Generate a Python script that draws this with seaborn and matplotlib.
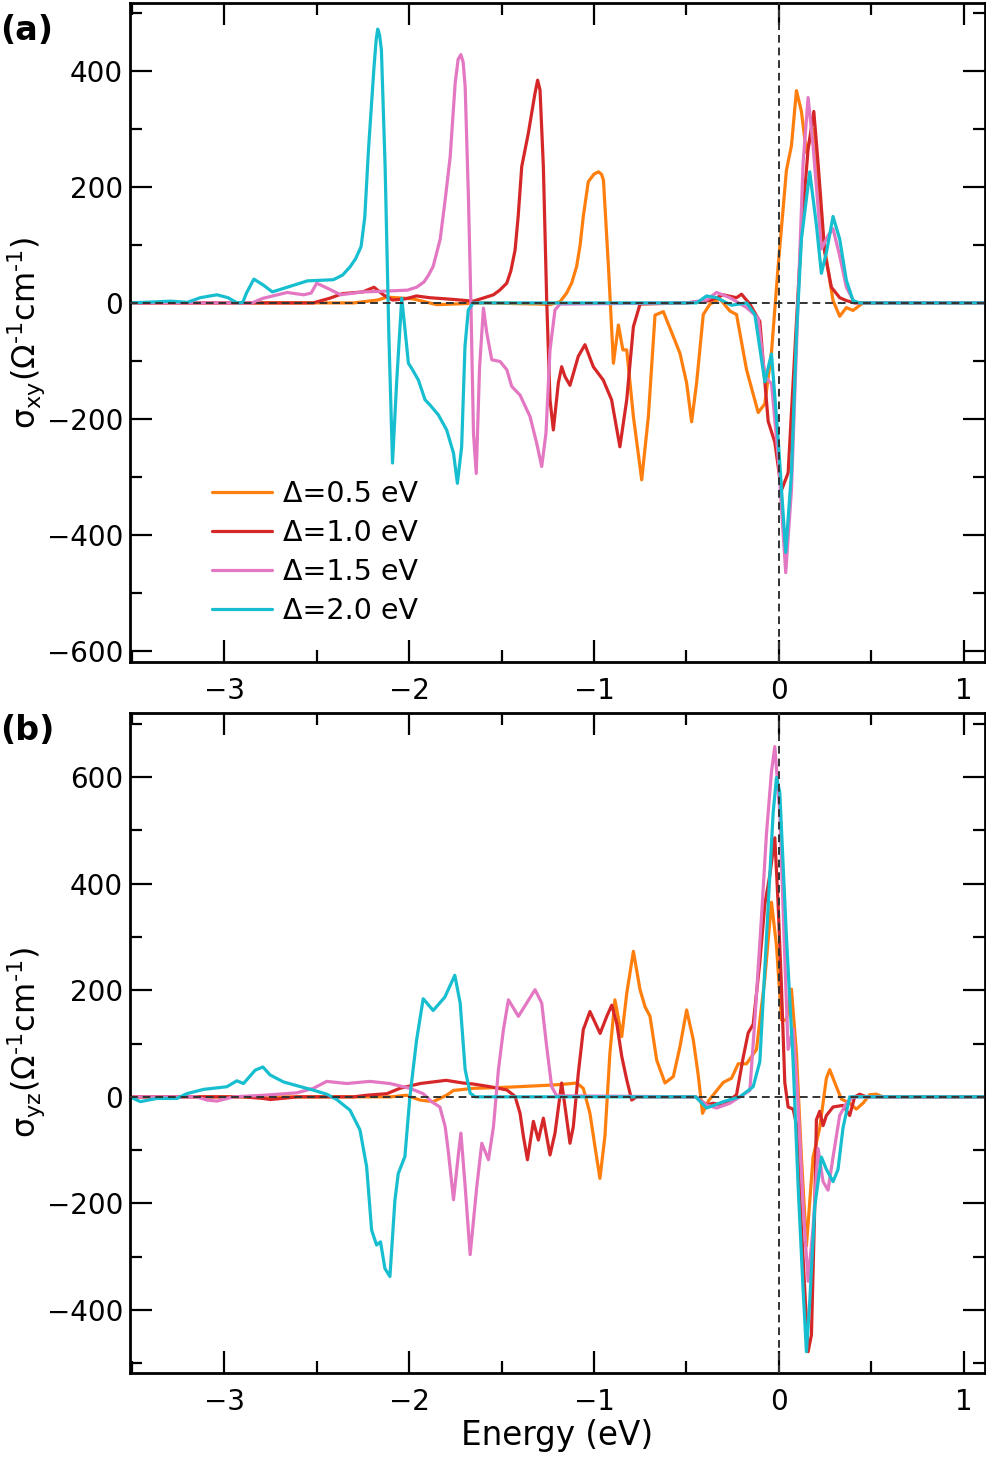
import numpy as np
import pandas as pd
import matplotlib
matplotlib.use("Agg")
import matplotlib.pyplot as plt
from matplotlib.ticker import MultipleLocator
import seaborn as sns

# ---------------- data ----------------
labels = ["Δ=0.5 eV", "Δ=1.0 eV", "Δ=1.5 eV", "Δ=2.0 eV"]
colors = ["#ff7f0e", "#d62728", "#e377c2", "#17becf"]

# Panel (a): sigma_xy
a05_E = [-3.51, -2.3, -2.17, -2.12, -1.98, -1.85, -1.6, -1.29, -1.238, -1.184, -1.148, -1.12, -1.094, -1.075, -1.058,
         -1.031, -1.0, -0.976, -0.96, -0.949, -0.922, -0.895, -0.868, -0.844, -0.823, -0.787, -0.742, -0.706, -0.670,
         -0.625, -0.571, -0.535, -0.499, -0.472, -0.445, -0.409, -0.373, -0.319, -0.265, -0.229, -0.175, -0.112,
         -0.076, -0.04, -0.004, 0.041, 0.068, 0.095, 0.122, 0.149, 0.185, 0.221, 0.257, 0.293, 0.329, 0.365, 0.401,
         0.455, 1.11]
a05_S = [0, 0, 5, 10, 7, -3, 0, -2, -3, 2, 17, 35, 63, 100, 149, 209, 222, 226, 222, 212, 63, -104, -38, -81, -81,
         -196, -305, -196, -21, -15, -58, -87, -138, -205, -138, -20, -2, 7, -14, -20, -115, -189, -174, -85, 63, 229,
         271, 366, 330, 259, 300, 152, 75, 4, -23, -8, -13, 0, 0]

a10_E = [-3.51, -2.52, -2.43, -2.36, -2.25, -2.19, -2.14, -2.09, -2.02, -1.96, -1.89, -1.76, -1.652, -1.544, -1.51,
         -1.472, -1.45, -1.427, -1.41, -1.391, -1.355, -1.32, -1.305, -1.292, -1.274, -1.256, -1.238, -1.22, -1.193,
         -1.175, -1.157, -1.13, -1.085, -1.049, -1.004, -0.95, -0.905, -0.86, -0.823, -0.787, -0.751, -0.5, -0.373,
         -0.301, -0.229, -0.202, -0.157, -0.103, -0.058, -0.022, 0.014, 0.05, 0.086, 0.122, 0.158, 0.189, 0.212,
         0.248, 0.284, 0.329, 0.365, 0.41, 1.11]
a10_S = [0, 0, 8, 16, 19, 27, 14, 5, 7, 12, 9, 6, 3, 14, 22, 34, 55, 91, 150, 235, 293, 360, 384, 367, 235, 5, -167,
         -219, -138, -110, -127, -142, -92, -72, -110, -133, -167, -248, -167, -41, -2, 0, 4, 14, 9, 15, -2, -32,
         -204, -240, -323, -293, -85, 122, 265, 330, 241, 87, 27, 9, 4, 0, 0]

a15_E = [-3.51, -2.85, -2.79, -2.66, -2.57, -2.53, -2.50, -2.44, -2.37, -2.25, -2.15, -2.01, -1.96, -1.92, -1.895,
         -1.87, -1.832, -1.805, -1.778, -1.751, -1.735, -1.72, -1.708, -1.697, -1.679, -1.666, -1.652, -1.637, -1.619,
         -1.598, -1.58, -1.553, -1.508, -1.472, -1.445, -1.4, -1.346, -1.31, -1.283, -1.26, -1.238, -1.211, -1.184,
         -0.5, -0.391, -0.337, -0.265, -0.175, -0.112, -0.076, -0.04, -0.004, 0.037, 0.068, 0.104, 0.131, 0.158,
         0.185, 0.23, 0.266, 0.293, 0.329, 0.365, 0.41, 1.11]
a15_S = [0, 0, 8, 18, 14, 17, 34, 25, 14, 19, 20, 22, 27, 36, 48, 63, 110, 178, 252, 379, 420, 428, 415, 373, 178,
         0, -225, -294, -110, -9, -52, -98, -101, -115, -144, -159, -196, -242, -282, -225, -81, -12, -2, 0, 5, 18,
         9, -8, -26, -127, -139, -264, -465, -323, 4, 241, 354, 271, 93, 116, 128, 81, 27, 0, 0]

a20_E = [-3.51, -3.29, -3.2, -3.13, -3.04, -2.98, -2.93, -2.9, -2.88, -2.84, -2.79, -2.74, -2.55, -2.41, -2.36,
         -2.32, -2.29, -2.26, -2.24, -2.22, -2.19, -2.178, -2.17, -2.16, -2.15, -2.13, -2.11, -2.09, -2.067, -2.04,
         -2.022, -2.004, -1.986, -1.95, -1.914, -1.887, -1.842, -1.797, -1.76, -1.739, -1.716, -1.698, -1.68, -1.653,
         -0.445, -0.391, -0.337, -0.256, -0.175, -0.13, -0.076, -0.04, -0.004, 0.037, 0.068, 0.095, 0.122, 0.167,
         0.203, 0.23, 0.257, 0.293, 0.329, 0.365, 0.401, 0.437, 1.11]
a20_S = [0, 3, 1, 9, 14, 9, 0, 1, 17, 41, 31, 19, 38, 40, 48, 62, 76, 97, 148, 264, 407, 455, 472, 462, 436, 235,
         -52, -276, -133, 8, -47, -104, -113, -133, -167, -176, -193, -219, -259, -311, -248, -75, -12, 0, 0, 12, 9,
         -4, 0, -20, -136, -88, -234, -430, -293, -56, 110, 226, 134, 51, 87, 149, 110, 39, 4, 0, 0]

# Panel (b): sigma_yz
b05_E = [-3.51, -2.1, -2.014, -1.942, -1.87, -1.798, -1.76, -1.652, -1.472, -1.292, -1.184, -1.094, -1.058, -1.022,
         -0.995, -0.968, -0.941, -0.914, -0.887, -0.85, -0.823, -0.787, -0.751, -0.724, -0.697, -0.661, -0.616,
         -0.571, -0.535, -0.499, -0.463, -0.436, -0.413, -0.382, -0.301, -0.256, -0.22, -0.175, -0.121, -0.076,
         -0.04, -0.013, 0.014, 0.041, 0.068, 0.095, 0.122, 0.149, 0.185, 0.221, 0.257, 0.275, 0.311, 0.338, 0.383,
         0.419, 0.455, 0.491, 0.527, 0.563, 1.11]
b05_S = [0, 0, 3, -6, -9, 3, 12, 16, 18, 21, 23, 26, 16, -31, -93, -153, -74, 82, 182, 113, 194, 273, 201, 169,
         151, 69, 26, 38, 94, 163, 107, 40, -31, -8, 27, 35, 62, 62, 89, 222, 365, 284, 144, 144, 202, 82, -113,
         -280, -113, -58, 35, 51, 19, -4, -12, -23, -12, 4, 5, 0, 0]

b10_E = [-3.51, -2.9, -2.79, -2.75, -2.6, -2.3, -2.23, -2.12, -2.05, -1.94, -1.87, -1.8, -1.71, -1.652, -1.562,
         -1.472, -1.427, -1.4, -1.382, -1.36, -1.328, -1.301, -1.274, -1.238, -1.211, -1.175, -1.157, -1.13, -1.112,
         -1.085, -1.058, -1.022, -0.967, -0.931, -0.904, -0.877, -0.85, -0.823, -0.796, -0.769, -0.45, -0.391,
         -0.355, -0.301, -0.229, -0.193, -0.166, -0.139, -0.103, -0.076, -0.049, -0.022, -0.004, 0.014, 0.032, 0.05,
         0.077, 0.095, 0.122, 0.158, 0.176, 0.194, 0.203, 0.221, 0.239, 0.257, 0.293, 0.347, 0.383, 0.41, 0.437,
         0.473, 1.11]
b10_S = [0, 0, -3, -5, 0, 0, 3, 6, 16, 25, 28, 31, 26, 24, 19, 13, 1, -31, -74, -118, -46, -81, -40, -109, -68, 26,
         -18, -87, -56, 44, 126, 160, 119, 151, 172, 138, 76, 32, -6, 0, 0, -15, -12, -16, 4, 74, 120, 136, 253,
         361, 416, 486, 361, 206, 27, -19, -23, -51, -245, -478, -447, -206, -43, -27, -54, -35, -19, -16, -35, 0,
         5, 0, 0]

b15_E = [-3.51, -3.15, -3.094, -3.04, -2.95, -2.787, -2.608, -2.518, -2.446, -2.338, -2.212, -2.104, -1.996, -1.924,
         -1.879, -1.834, -1.805, -1.787, -1.76, -1.733, -1.72, -1.697, -1.67, -1.634, -1.607, -1.571, -1.544, -1.517,
         -1.49, -1.463, -1.409, -1.364, -1.319, -1.283, -1.256, -1.229, -1.202, -0.45, -0.391, -0.337, -0.265,
         -0.211, -0.157, -0.13, -0.094, -0.067, -0.04, -0.022, 0.005, 0.032, 0.05, 0.077, 0.104, 0.131, 0.158, 0.185,
         0.212, 0.239, 0.266, 0.293, 0.329, 0.365, 0.401, 1.11]
b15_S = [0, 0, -6, -8, 0, 3, 7.5, 16, 29, 25, 29, 25, 16, 6, -9, -19, -56, -106, -193, -106, -68, -168, -296, -168,
         -87, -118, -56, 51, 126, 182, 151, 176, 201, 176, 94, 19, 2, 0, -15, -21, -12, 0, 12, 144, 338, 494, 610,
         657, 533, 260, 89, 128, -12, -206, -346, -245, -97, -159, -175, -113, -35, -12, 0, 0]

b20_E = [-3.51, -3.454, -3.364, -3.256, -3.202, -3.112, -2.986, -2.932, -2.896, -2.833, -2.791, -2.752, -2.68,
         -2.608, -2.518, -2.446, -2.392, -2.32, -2.266, -2.23, -2.203, -2.176, -2.155, -2.131, -2.104, -2.077,
         -2.059, -2.023, -1.996, -1.96, -1.924, -1.87, -1.807, -1.753, -1.724, -1.697, -1.67, -1.643, -0.45, -0.391,
         -0.3, -0.211, -0.139, -0.103, -0.067, -0.031, -0.013, 0.005, 0.041, 0.077, 0.104, 0.131, 0.149, 0.167,
         0.194, 0.23, 0.257, 0.293, 0.32, 0.347, 0.383, 1.11]
b20_S = [0, -9, -3, -3, 6, 14, 19, 30, 25, 50, 56, 41, 28, 21, 12.5, 5, -5, -25, -62, -131, -250, -278, -272, -322,
         -337, -194, -144, -112, 0, 106, 184, 162, 187, 228, 176, 51, 7, 0, 0, -21, -9, 0, 19, 66, 299, 533, 599,
         571, 299, 66, -167, -361, -478, -384, -206, -113, -136, -159, -136, -58, 0, 0]

x_ticks = [-3, -2, -1, 0, 1]
ya_ticks = [-600, -400, -200, 0, 200, 400]
yb_ticks = [-400, -200, 0, 200, 400, 600]


def make_df(series):
    frames = []
    for lab, (E, S) in zip(labels, series):
        frames.append(pd.DataFrame({"Energy": E, "sigma": S, "delta": lab}))
    return pd.concat(frames, ignore_index=True)


df_a = make_df([(a05_E, a05_S), (a10_E, a10_S), (a15_E, a15_S), (a20_E, a20_S)])
df_b = make_df([(b05_E, b05_S), (b10_E, b10_S), (b15_E, b15_S), (b20_E, b20_S)])

# ---------------- style ----------------
sns.set_style("ticks")
plt.rcParams["font.family"] = ["DejaVu Sans"]
plt.rcParams["mathtext.default"] = "regular"
plt.rcParams.update({"text.color": "black", "axes.labelcolor": "black", "xtick.color": "black",
                     "ytick.color": "black", "axes.edgecolor": "black"})

fig = plt.figure(figsize=(9.87, 14.57), dpi=100)
W, H = 987, 1457
ax_a = fig.add_axes([130 / W, 1 - 662 / H, 855 / W, 659 / H])
ax_b = fig.add_axes([130 / W, 1 - 1373 / H, 855 / W, 660 / H])

palette = dict(zip(labels, colors))

for ax, df, ylim, yt in [(ax_a, df_a, (-619, 517), ya_ticks), (ax_b, df_b, (-518, 720), yb_ticks)]:
    sns.lineplot(data=df, x="Energy", y="sigma", hue="delta", hue_order=labels, palette=palette,
                 sort=False, estimator=None, linewidth=2.3, ax=ax, legend=(ax is ax_a))
    ax.axhline(0, color="#333333", lw=1.4, ls=(0, (4, 2.5)), zorder=5)
    ax.axvline(0, color="#333333", lw=1.4, ls=(0, (4, 2.5)), zorder=5)
    ax.set_xlim(-3.51, 1.115)
    ax.set_ylim(*ylim)
    ax.set_xticks(x_ticks)
    ax.set_yticks(yt)
    ax.xaxis.set_minor_locator(MultipleLocator(0.5))
    ax.yaxis.set_minor_locator(MultipleLocator(100))
    ax.tick_params(which="both", direction="in", top=True, right=True, width=1.6, labelsize=20,
                   color="black", labelcolor="black")
    ax.tick_params(which="major", length=16)
    ax.tick_params(axis="x", which="major", pad=11)
    ax.tick_params(axis="y", which="major", pad=5)
    ax.tick_params(which="minor", length=8.5)
    for sp in ax.spines.values():
        sp.set_linewidth(2.0)
        sp.set_color("black")
        sp.set_visible(True)
    ax.set_xlabel("")

ax_a.set_ylabel("σ$_{xy}$(Ω$^{‐1}$cm$^{‐1}$)", fontsize=23)
ax_b.set_ylabel("σ$_{yz}$(Ω$^{‐1}$cm$^{‐1}$)", fontsize=23)
ax_a.yaxis.set_label_coords(-0.097, 0.5)
ax_b.yaxis.set_label_coords(-0.097, 0.5)
ax_b.set_xlabel("Energy (eV)", fontsize=23.5, labelpad=2)

handles, labs = ax_a.get_legend_handles_labels()
ax_a.legend(handles, labs, loc="upper left", bbox_to_anchor=(0.096, 0.276), frameon=False,
            fontsize=20.5, handlelength=2.1, handletextpad=0.4, labelspacing=0.38,
            borderpad=0, borderaxespad=0)

fig.text(0.0, 1 - 30 / H, "(a)", fontsize=24, fontweight="bold", va="center", ha="left")
fig.text(0.0, 1 - 731 / H, "(b)", fontsize=24, fontweight="bold", va="center", ha="left")

fig.savefig("out.png", dpi=100)
